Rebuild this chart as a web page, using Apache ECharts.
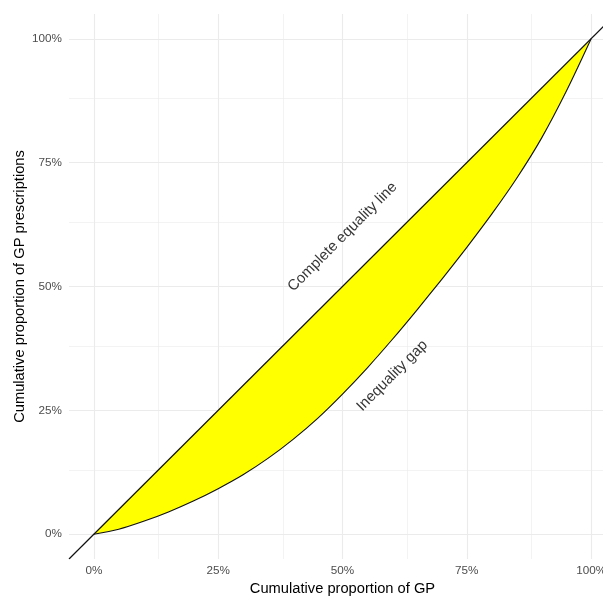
<!DOCTYPE html>
<html><head><meta charset="utf-8">
<script src="https://cdn.jsdelivr.net/npm/echarts@6/dist/echarts.min.js"></script>
<style>html,body{margin:0;padding:0;background:#fff}#c{width:603px;height:596px}</style>
</head><body><div id="c"></div>
<script>
// Cumulative proportion of GP (x) and of GP prescriptions (y)
const gpShare = [0, 0.05, 0.1, 0.15, 0.2, 0.25, 0.3, 0.35, 0.4, 0.45, 0.5, 0.55, 0.6, 0.65, 0.7, 0.75, 0.8, 0.85, 0.9, 0.95, 1];
const rxShare = [0, 0.010, 0.026, 0.045, 0.067, 0.092, 0.120, 0.153, 0.191, 0.234, 0.283, 0.336, 0.393, 0.453, 0.515, 0.579, 0.646, 0.718, 0.799, 0.894, 1];
const tickValues = [0, 0.25, 0.5, 0.75, 1];
const minorValues = [0.125, 0.375, 0.625, 0.875];
const equalityExtent = [-0.05, 1.05];
const annotations = [
  { text: 'Complete equality line', x: 0.5, y: 0.6 },
  { text: 'Inequality gap', x: 0.6, y: 0.32 }
];

const FONT = "'Liberation Sans', Arial, sans-serif";
const pct = v => Math.round(v * 100) + '%';

const curveData = gpShare.map((x, i) => [x, rxShare[i]]);
const eqData = equalityExtent.map(v => [v, v]);

const gridLines = [];
tickValues.forEach(v => { gridLines.push({ xAxis: v, lineStyle: { width: 1.1 } }); gridLines.push({ yAxis: v, lineStyle: { width: 1.1 } }); });
minorValues.forEach(v => { gridLines.push({ xAxis: v, lineStyle: { width: 0.6 } }); gridLines.push({ yAxis: v, lineStyle: { width: 0.6 } }); });

const chart = echarts.init(document.getElementById('c'), null, { renderer: 'canvas' });
chart.setOption({
  animation: false,
  backgroundColor: '#fff',
  textStyle: { fontFamily: FONT },
  grid: { left: 69, right: -13, top: 14, bottom: 37, containLabel: false, outerBoundsMode: 'none' },
  xAxis: {
    type: 'value', min: -0.05, max: 1.05,
    name: 'Cumulative proportion of GP', nameLocation: 'middle', nameGap: 22, nameMoveOverlap: false,
    nameTextStyle: { color: '#000', fontSize: 14.7, fontFamily: FONT },
    axisLine: { show: false }, axisTick: { show: false, customValues: tickValues },
    splitLine: { show: false },
    axisLabel: { customValues: tickValues, formatter: pct, color: '#4d4d4d', fontSize: 11.7, margin: 6, fontFamily: FONT }
  },
  yAxis: {
    type: 'value', min: -0.05, max: 1.05,
    name: 'Cumulative proportion of GP prescriptions', nameLocation: 'middle', nameGap: 42, nameRotate: 90, nameMoveOverlap: false,
    nameTextStyle: { color: '#000', fontSize: 14.7, fontFamily: FONT },
    axisLine: { show: false }, axisTick: { show: false, customValues: tickValues },
    splitLine: { show: false },
    axisLabel: { customValues: tickValues, formatter: pct, color: '#4d4d4d', fontSize: 11.7, margin: 7, fontFamily: FONT }
  },
  series: [
    {
      type: 'custom', name: 'gap', data: [[0, 0]], z: 2, silent: true,
      renderItem: (params, api) => {
        if (params.dataIndex !== 0) return null;
        const pts = [];
        gpShare.forEach(x => pts.push(api.coord([x, x])));
        for (let i = gpShare.length - 1; i >= 0; i--) pts.push(api.coord([gpShare[i], rxShare[i]]));
        return { type: 'polygon', shape: { points: pts }, style: { fill: '#ffff00', stroke: null } };
      }
    },
    {
      type: 'line', name: 'curve', data: curveData, smooth: 0.3,
      showSymbol: false, lineStyle: { color: '#111', width: 1.1 }, z: 3, silent: true
    },
    {
      type: 'line', name: 'equality', data: eqData, showSymbol: false, clip: true,
      lineStyle: { color: '#111', width: 1.2 }, z: 4, silent: true,
      markLine: {
        silent: true, symbol: 'none', z: 0, label: { show: false },
        lineStyle: { color: '#ebebeb', type: 'solid' }, emphasis: { disabled: true },
        data: gridLines
      }
    },
    {
      type: 'scatter', name: 'labels', symbolSize: 0, z: 5, silent: true,
      data: annotations.map(a => ({ value: [a.x, a.y], name: a.text })),
      label: { show: true, position: 'inside', formatter: p => p.name, rotate: 45, color: '#000', fontSize: 15, fontFamily: FONT }
    }
  ]
});
</script>
</body></html>
